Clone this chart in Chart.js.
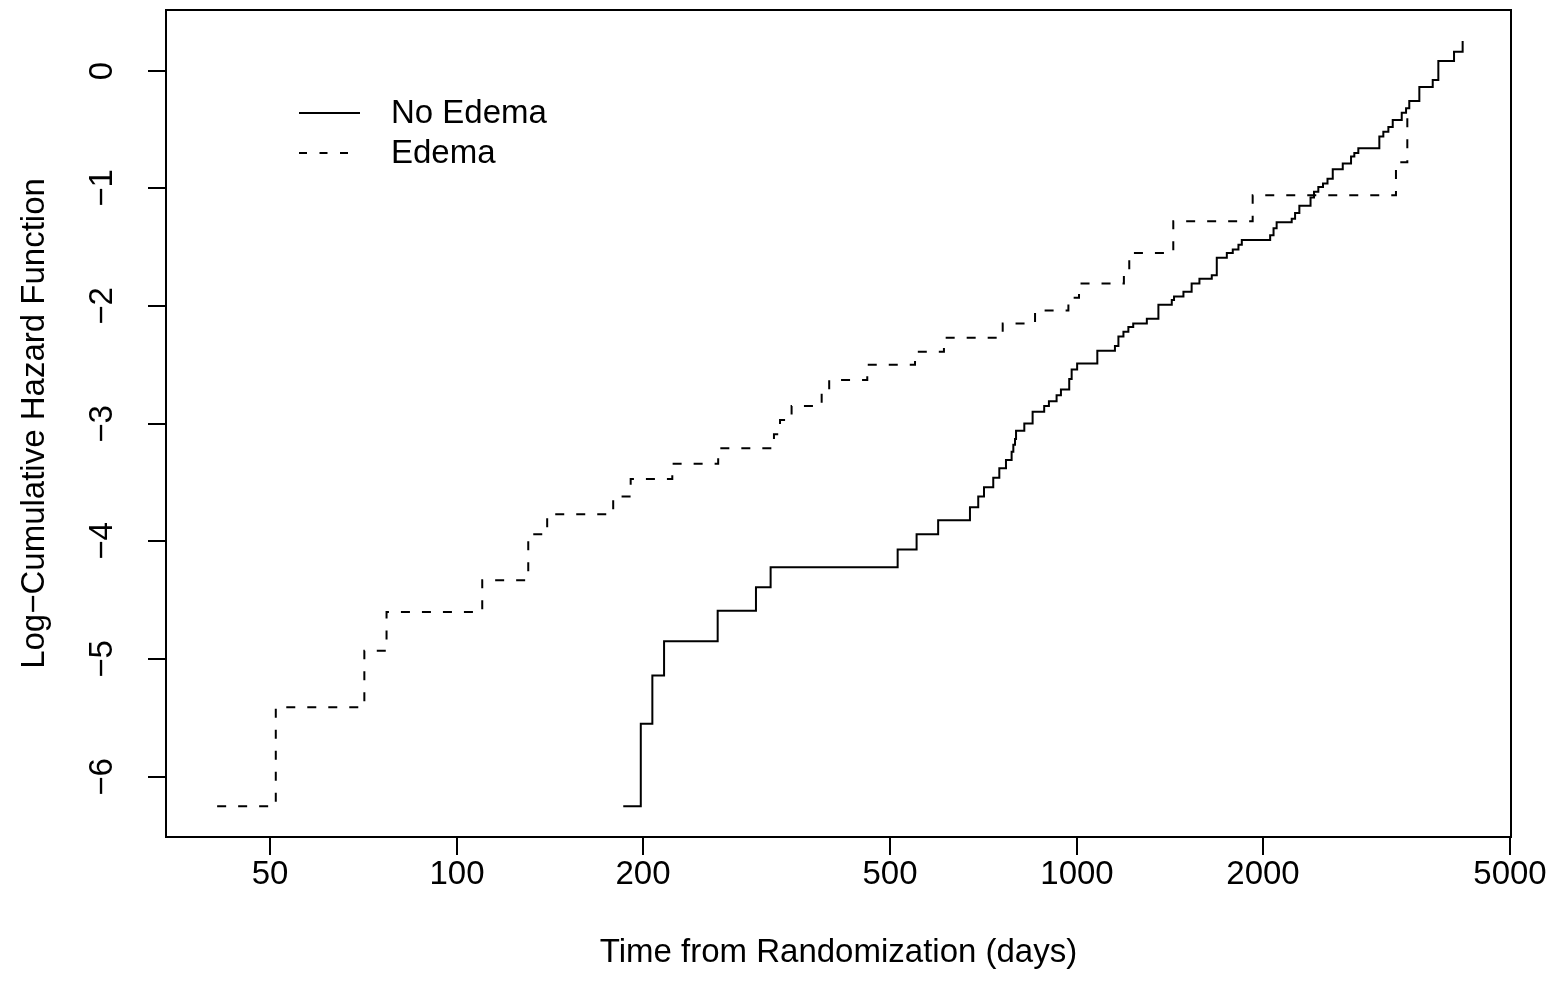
<!DOCTYPE html>
<html>
<head>
<meta charset="utf-8">
<script src="https://cdn.jsdelivr.net/npm/chart.js@4.4.1/dist/chart.umd.min.js"></script>
<style>
  html, body { margin: 0; padding: 0; background: #fff; }
  #wrap { width: 1549px; height: 995px; }
</style>
</head>
<body>
<div id="wrap"><canvas id="chart" width="1549" height="995"></canvas></div>
<script>
// axis ticks
const xTicks = [50, 100, 200, 500, 1000, 2000, 5000];
const yTicks = [-6, -5, -4, -3, -2, -1, 0];

// No Edema: time of each step and level after it (first entry = start of curve)
const noEdemaTimes = [185.7, 198.2, 206.9, 216.1, 263.7, 304, 321, 514.5, 552, 598, 673, 694, 709, 733.8, 750.5,
    769.3, 785.6, 790.6, 795.6, 798.6, 823.5, 849.3, 886.6, 902.3, 928.4, 943.5, 973, 981.8, 1002, 1080, 1153,
    1168, 1190, 1212, 1234, 1298, 1355, 1424, 1436, 1487, 1533, 1578, 1652, 1683, 1747, 1786, 1824, 1847, 2052,
    2078, 2102, 2223, 2251, 2287, 2384, 2415, 2454, 2497, 2539, 2589, 2687, 2771, 2805, 2847, 3078, 3124, 3183,
    3235, 3345, 3399, 3440, 3571, 3753, 3832, 4062, 4194];
const noEdemaValues = [-6.25, -5.55, -5.14, -4.85, -4.59, -4.39, -4.22, -4.07, -3.94, -3.82, -3.71, -3.62, -3.54,
    -3.46, -3.38, -3.31, -3.24, -3.18, -3.13, -3.06, -3.00, -2.90, -2.85, -2.81, -2.76, -2.71, -2.62, -2.54, -2.49,
    -2.38, -2.34, -2.26, -2.22, -2.18, -2.15, -2.11, -1.99, -1.95, -1.92, -1.88, -1.81, -1.77, -1.74, -1.59, -1.55,
    -1.52, -1.48, -1.44, -1.40, -1.34, -1.29, -1.26, -1.21, -1.15, -1.08, -1.03, -0.99, -0.96, -0.92, -0.84, -0.79,
    -0.73, -0.70, -0.66, -0.56, -0.52, -0.48, -0.42, -0.36, -0.32, -0.26, -0.14, -0.08, 0.08, 0.16, 0.25];

// Edema
const edemaTimes = [41.1, 51.1, 71.0, 77.1, 110, 130.5, 140, 178.9, 190.9, 222.8, 264.2, 325, 332.4, 347, 388, 399,
    459.6, 548.8, 611, 760, 857, 970, 1009, 1192, 1216, 1432, 1923, 3274, 3415];
const edemaValues = [-6.25, -5.41, -4.93, -4.60, -4.33, -3.94, -3.77, -3.62, -3.47, -3.34, -3.21, -3.09, -2.97,
    -2.85, -2.74, -2.63, -2.50, -2.39, -2.27, -2.15, -2.04, -1.93, -1.81, -1.70, -1.55, -1.28, -1.06, -0.78, -0.32];

const toPoints = (xs, ys) => xs.map((x, i) => ({ x, y: ys[i] }));

const FONT = '33px "Liberation Sans", Arial, sans-serif';

// R-style box, ticks, labels and legend
const rAxes = {
    id: 'rAxes',
    afterDraw(chart) {
        const { ctx, chartArea: a, scales } = chart;
        const xs = scales.x, ys = scales.y;
        ctx.save();
        ctx.strokeStyle = '#000';
        ctx.fillStyle = '#000';
        ctx.lineWidth = 2;
        ctx.strokeRect(a.left, a.top, a.right - a.left, a.bottom - a.top);
        ctx.font = FONT;

        // x axis
        ctx.textAlign = 'center';
        ctx.textBaseline = 'alphabetic';
        xTicks.forEach(v => {
            const px = Math.round(xs.getPixelForValue(v));
            ctx.beginPath();
            ctx.moveTo(px, a.bottom);
            ctx.lineTo(px, a.bottom + 18);
            ctx.stroke();
            ctx.fillText(String(v), px, a.bottom + 47);
        });
        ctx.fillText('Time from Randomization (days)', (a.left + a.right) / 2, a.bottom + 125);

        // y axis
        yTicks.forEach(v => {
            const py = Math.round(ys.getPixelForValue(v));
            ctx.beginPath();
            ctx.moveTo(a.left, py);
            ctx.lineTo(a.left - 18, py);
            ctx.stroke();
            ctx.save();
            ctx.translate(a.left - 54, py);
            ctx.rotate(-Math.PI / 2);
            ctx.fillText(String(v).replace('-', '\u2212'), 0, 0);
            ctx.restore();
        });
        ctx.save();
        ctx.translate(44, (a.top + a.bottom) / 2);
        ctx.rotate(-Math.PI / 2);
        ctx.fillText('Log\u2212Cumulative Hazard Function', 0, 0);
        ctx.restore();

        // legend
        ctx.textAlign = 'left';
        ctx.textBaseline = 'middle';
        chart.data.datasets.forEach((ds, i) => {
            const ly = 113 + i * 40;
            ctx.setLineDash(ds.borderDash && ds.borderDash.length ? [8, 12.5] : []);
            ctx.beginPath();
            ctx.moveTo(299, ly);
            ctx.lineTo(360, ly);
            ctx.stroke();
            ctx.setLineDash([]);
            ctx.fillText(ds.label, 391, ly + 1);
        });
        ctx.restore();
    }
};

new Chart(document.getElementById('chart'), {
    type: 'line',
    data: {
        datasets: [
            {
                label: 'No Edema',
                data: toPoints(noEdemaTimes, noEdemaValues),
                borderColor: '#000',
                borderWidth: 2,
                stepped: 'before',
                pointRadius: 0,
                fill: false
            },
            {
                label: 'Edema',
                data: toPoints(edemaTimes, edemaValues),
                borderColor: '#000',
                borderWidth: 2,
                borderDash: [9, 12],
                stepped: 'before',
                pointRadius: 0,
                fill: false
            }
        ]
    },
    options: {
        responsive: false,
        animation: false,
        devicePixelRatio: 1,
        layout: { padding: { left: 0, right: 38, top: 10, bottom: 0 } },
        plugins: { legend: { display: false }, tooltip: { enabled: false } },
        scales: {
            x: {
                type: 'logarithmic',
                min: 33.99,
                max: 5019,
                grid: { display: false },
                border: { display: false },
                ticks: { display: false },
                afterFit: s => { s.height = 158; }
            },
            y: {
                type: 'linear',
                min: -6.512,
                max: 0.514,
                grid: { display: false },
                border: { display: false },
                ticks: { display: false },
                afterFit: s => { s.width = 166; }
            }
        }
    },
    plugins: [rAxes]
});
</script>
</body>
</html>
